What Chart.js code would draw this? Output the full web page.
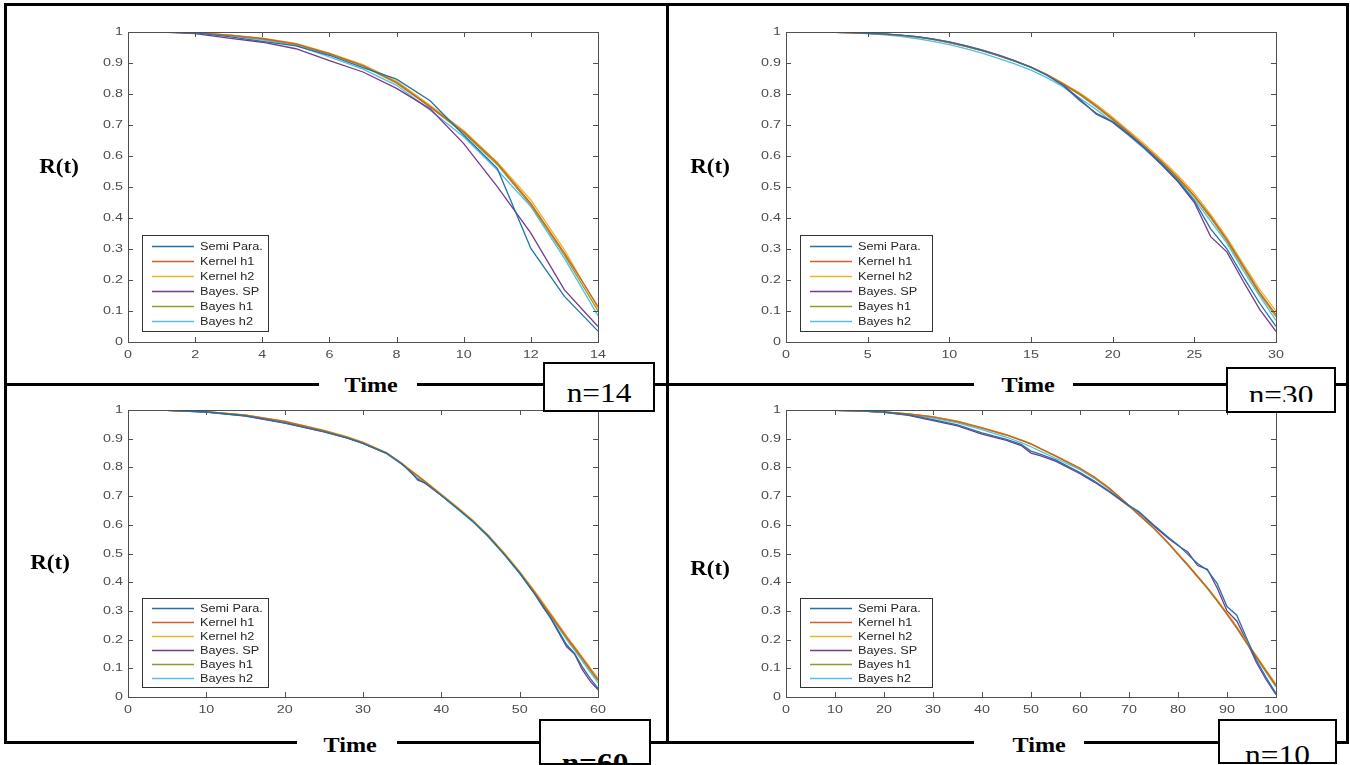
<!DOCTYPE html>
<html>
<head>
<meta charset="utf-8">
<script src="https://cdn.jsdelivr.net/npm/chart.js@4.4.1/dist/chart.umd.min.js"></script>
<style>
  html, body { margin: 0; padding: 0; background: #fff; overflow: hidden; }
  #fig { position: relative; width: 1350px; height: 765px; overflow: hidden; }
  .ln { position: absolute; background: #000; }
  canvas { position: absolute; z-index: 1; }
  .rt { position: absolute; width: 80px; height: 24px; line-height: 24px; text-align: center;
        font: bold 20px "Liberation Serif", serif; transform: scaleX(1.15); z-index: 2; }
  .time { position: absolute; box-sizing: border-box; height: 22px; line-height: 22px; background: #fff;
          text-align: center; font: bold 21px "Liberation Serif", serif; z-index: 3; }
  .time span { display: inline-block; transform: scaleX(1.15); }
  .nbox { position: absolute; box-sizing: border-box; border: 2px solid #000; background: #fff; overflow: hidden; z-index: 4; }
  .nbox .clip { position: absolute; left: 0; right: 0; top: 0; overflow: hidden; }
  .nbox span { position: absolute; left: 0; right: 0; text-align: center; font: 28px "Liberation Serif", serif;
               line-height: 28px; transform: scaleX(1.12); }
</style>
</head>
<body>
<div id="fig">
  <div class="ln" style="left:4px;top:3px;width:1345px;height:3px"></div>
  <div class="ln" style="left:4px;top:383px;width:1345px;height:3px"></div>
  <div class="ln" style="left:4px;top:741px;width:1345px;height:3px"></div>
  <div class="ln" style="left:4px;top:3px;width:3px;height:741px"></div>
  <div class="ln" style="left:666px;top:3px;width:3px;height:741px"></div>
  <div class="ln" style="left:1346px;top:3px;width:3px;height:741px"></div>

  <div class="rt" style="left:19px;top:155px">R(t)</div>
  <div class="rt" style="left:670px;top:155px">R(t)</div>
  <div class="rt" style="left:10px;top:551px">R(t)</div>
  <div class="rt" style="left:670px;top:557px">R(t)</div>

  <div class="time" style="left:319px;top:373px;width:98px;padding-left:6px"><span>Time</span></div>
  <div class="time" style="left:974px;top:373px;width:99px;padding-left:10px"><span>Time</span></div>
  <div class="time" style="left:297px;top:733px;width:100px;padding-left:6px"><span>Time</span></div>
  <div class="time" style="left:974px;top:733px;width:110px;padding-left:20px"><span>Time</span></div>

  <div class="nbox" style="left:543px;top:362px;width:112px;height:50px"><span style="top:15px">n=14</span></div>
  <div class="nbox" style="left:1226px;top:367px;width:110px;height:46px">
    <div class="clip" style="height:33px"><span style="top:12px">n=30</span></div>
  </div>
  <div class="nbox" style="left:539px;top:719px;width:112px;height:46px"><span style="top:28px;font-weight:bold">n=60</span></div>
  <div class="nbox" style="left:1218px;top:719px;width:119px;height:45px"><span style="top:20px">n=10</span></div>
</div>

<script>
const seriesNames = ['Semi Para.', 'Kernel h1', 'Kernel h2', 'Bayes. SP', 'Bayes h1', 'Bayes h2'];
const lineColors = ['#1f74a6', '#cf6128', '#eab527', '#773a8c', '#8a9e2c', '#58bde6'];

const yTickLabels = ['0', '0.1', '0.2', '0.3', '0.4', '0.5', '0.6', '0.7', '0.8', '0.9', '1'];
const xTicks14 = ['0', '2', '4', '6', '8', '10', '12', '14'];
const xTicks30 = ['0', '5', '10', '15', '20', '25', '30'];
const xTicks60 = ['0', '10', '20', '30', '40', '50', '60'];
const xTicks100 = ['0', '10', '20', '30', '40', '50', '60', '70', '80', '90', '100'];

// n = 14
const t14 = [1, 2, 3, 4, 5, 6, 7, 8, 9, 10, 11, 12, 13, 14];
const n14_semi = [1, 0.997, 0.985, 0.970, 0.955, 0.925, 0.885, 0.848, 0.778, 0.668, 0.560, 0.302, 0.147, 0.035];
const n14_kh1 = [1, 0.998, 0.990, 0.979, 0.962, 0.930, 0.892, 0.838, 0.760, 0.678, 0.577, 0.447, 0.287, 0.115];
const n14_kh2 = [1, 0.998, 0.991, 0.980, 0.963, 0.932, 0.895, 0.842, 0.764, 0.682, 0.580, 0.458, 0.297, 0.108];
const n14_bsp = [1, 0.995, 0.980, 0.967, 0.946, 0.908, 0.871, 0.818, 0.752, 0.640, 0.501, 0.351, 0.168, 0.050];
const n14_bh1 = [1, 0.998, 0.990, 0.978, 0.960, 0.928, 0.890, 0.835, 0.757, 0.674, 0.572, 0.442, 0.280, 0.100];
const n14_bh2 = [1, 0.997, 0.988, 0.975, 0.957, 0.920, 0.880, 0.828, 0.748, 0.662, 0.555, 0.437, 0.270, 0.085];

// n = 30
const t30 = [1, 2, 3, 4, 5, 6, 7, 8, 9, 10, 11, 12, 13, 14, 15, 16, 17, 18, 19, 20, 21, 22, 23, 24, 25, 26, 27, 28, 29, 30];
const n30_semi = [1, 1, 0.999, 0.998, 0.996, 0.994, 0.990, 0.985, 0.977, 0.967, 0.955, 0.941, 0.925, 0.907, 0.886, 0.860, 0.826, 0.778, 0.738, 0.711, 0.670, 0.625, 0.575, 0.520, 0.455, 0.365, 0.300, 0.210, 0.125, 0.050];
const n30_kh1 = [1, 1, 0.999, 0.998, 0.996, 0.993, 0.989, 0.984, 0.976, 0.966, 0.954, 0.940, 0.924, 0.906, 0.887, 0.862, 0.832, 0.800, 0.762, 0.720, 0.676, 0.630, 0.582, 0.530, 0.472, 0.405, 0.330, 0.245, 0.160, 0.088];
const n30_kh2 = [1, 1, 0.999, 0.998, 0.996, 0.993, 0.989, 0.984, 0.976, 0.966, 0.954, 0.940, 0.924, 0.906, 0.887, 0.863, 0.834, 0.803, 0.766, 0.725, 0.681, 0.636, 0.588, 0.537, 0.480, 0.412, 0.336, 0.252, 0.170, 0.100];
const n30_bsp = [1, 1, 0.999, 0.998, 0.996, 0.994, 0.990, 0.985, 0.978, 0.968, 0.956, 0.942, 0.926, 0.908, 0.887, 0.861, 0.828, 0.782, 0.735, 0.709, 0.668, 0.623, 0.572, 0.517, 0.450, 0.340, 0.290, 0.195, 0.105, 0.034];
const n30_bh1 = [1, 1, 0.999, 0.998, 0.996, 0.993, 0.989, 0.984, 0.976, 0.966, 0.954, 0.940, 0.924, 0.906, 0.886, 0.861, 0.830, 0.797, 0.758, 0.716, 0.672, 0.626, 0.578, 0.526, 0.468, 0.400, 0.325, 0.240, 0.155, 0.082];
const n30_bh2 = [1, 1, 0.999, 0.997, 0.995, 0.991, 0.986, 0.979, 0.970, 0.959, 0.946, 0.932, 0.915, 0.897, 0.877, 0.852, 0.822, 0.786, 0.750, 0.708, 0.665, 0.620, 0.572, 0.520, 0.460, 0.390, 0.318, 0.230, 0.148, 0.070];

// n = 60
const t60 = [1, 5, 10, 15, 20, 25, 28, 30, 33, 35, 36, 37, 38, 40, 42, 44, 46, 48, 50, 52, 53, 54, 56, 57, 58, 59, 60];
const n60_semi = [1, 0.999, 0.993, 0.980, 0.955, 0.925, 0.903, 0.884, 0.850, 0.812, 0.785, 0.760, 0.743, 0.702, 0.658, 0.612, 0.560, 0.498, 0.432, 0.355, 0.312, 0.275, 0.182, 0.152, 0.105, 0.065, 0.030];
const n60_kh1 = [1, 0.999, 0.994, 0.982, 0.960, 0.928, 0.905, 0.886, 0.850, 0.812, 0.791, 0.770, 0.749, 0.704, 0.660, 0.614, 0.560, 0.500, 0.434, 0.362, 0.323, 0.285, 0.208, 0.172, 0.135, 0.097, 0.060];
const n60_kh2 = [1, 0.999, 0.994, 0.983, 0.961, 0.930, 0.907, 0.888, 0.852, 0.814, 0.793, 0.772, 0.751, 0.707, 0.663, 0.617, 0.564, 0.504, 0.438, 0.366, 0.328, 0.290, 0.212, 0.176, 0.139, 0.102, 0.065];
const n60_bsp = [1, 0.999, 0.993, 0.979, 0.954, 0.924, 0.902, 0.884, 0.849, 0.811, 0.788, 0.755, 0.745, 0.703, 0.659, 0.613, 0.563, 0.499, 0.433, 0.358, 0.315, 0.272, 0.175, 0.150, 0.095, 0.055, 0.025];
const n60_bh1 = [1, 0.999, 0.994, 0.982, 0.959, 0.927, 0.904, 0.885, 0.850, 0.811, 0.790, 0.769, 0.748, 0.703, 0.659, 0.613, 0.559, 0.499, 0.433, 0.360, 0.321, 0.283, 0.205, 0.169, 0.132, 0.094, 0.058];
const n60_bh2 = [1, 0.999, 0.993, 0.981, 0.958, 0.926, 0.903, 0.884, 0.848, 0.810, 0.789, 0.768, 0.747, 0.702, 0.657, 0.611, 0.557, 0.497, 0.430, 0.358, 0.319, 0.280, 0.200, 0.163, 0.125, 0.087, 0.050];

// n = 100
const t100 = [1, 5, 10, 15, 20, 25, 30, 35, 40, 45, 48, 50, 52, 55, 60, 63, 66, 70, 72, 75, 78, 80, 82, 84, 86, 88, 90, 92, 94, 96, 98, 100];
const n100_semi = [1, 1, 0.999, 0.997, 0.993, 0.983, 0.966, 0.948, 0.920, 0.898, 0.880, 0.857, 0.845, 0.826, 0.782, 0.752, 0.717, 0.667, 0.646, 0.600, 0.557, 0.530, 0.497, 0.465, 0.442, 0.395, 0.315, 0.285, 0.205, 0.128, 0.068, 0.012];
const n100_kh1 = [1, 1, 0.999, 0.997, 0.993, 0.986, 0.976, 0.960, 0.938, 0.913, 0.895, 0.882, 0.865, 0.840, 0.797, 0.765, 0.727, 0.667, 0.636, 0.590, 0.537, 0.498, 0.460, 0.420, 0.380, 0.336, 0.290, 0.242, 0.190, 0.140, 0.090, 0.040];
const n100_kh2 = [1, 1, 0.999, 0.997, 0.993, 0.986, 0.977, 0.961, 0.939, 0.914, 0.896, 0.883, 0.866, 0.841, 0.798, 0.766, 0.728, 0.668, 0.637, 0.591, 0.538, 0.500, 0.462, 0.422, 0.382, 0.339, 0.293, 0.245, 0.194, 0.144, 0.094, 0.045];
const n100_bsp = [1, 1, 0.999, 0.997, 0.992, 0.981, 0.963, 0.945, 0.916, 0.894, 0.876, 0.850, 0.840, 0.822, 0.778, 0.748, 0.714, 0.665, 0.644, 0.597, 0.553, 0.528, 0.505, 0.458, 0.445, 0.380, 0.300, 0.265, 0.195, 0.120, 0.060, 0.008];
const n100_bh1 = [1, 1, 0.999, 0.997, 0.993, 0.986, 0.976, 0.959, 0.937, 0.912, 0.894, 0.881, 0.864, 0.839, 0.796, 0.764, 0.726, 0.666, 0.635, 0.589, 0.536, 0.497, 0.459, 0.419, 0.379, 0.335, 0.289, 0.240, 0.188, 0.138, 0.088, 0.038];
const n100_bh2 = [1, 1, 0.999, 0.997, 0.992, 0.984, 0.972, 0.955, 0.932, 0.905, 0.886, 0.872, 0.856, 0.832, 0.792, 0.761, 0.724, 0.665, 0.634, 0.588, 0.535, 0.496, 0.458, 0.418, 0.378, 0.334, 0.288, 0.239, 0.187, 0.136, 0.085, 0.035];

Chart.defaults.font.family = "'Liberation Sans', Arial, sans-serif";
Chart.defaults.font.size = 11;

// text drawn a bit wider than the font, as in the original figure
function wideText(ctx, txt, x, y, sx) {
  ctx.save();
  ctx.translate(x, y);
  ctx.scale(sx, 1);
  ctx.fillText(txt, 0, 0);
  ctx.restore();
}

// MATLAB-like axes box with inward ticks on all sides, tick labels, legend inside lower-left
const matlabBox = {
  id: 'matlabBox',
  afterDatasetsDraw(chart, args, opts) {
    const ctx = chart.ctx;
    const a = chart.chartArea;
    const xs = chart.scales.x, ys = chart.scales.y;
    ctx.save();
    ctx.strokeStyle = '#505050';
    ctx.lineWidth = 1;
    ctx.strokeRect(Math.round(a.left) + 0.5, Math.round(a.top) + 0.5, Math.round(a.right - a.left), Math.round(a.bottom - a.top));
    ctx.beginPath();
    xs.ticks.forEach(t => {
      const px = Math.round(xs.getPixelForValue(t.value)) + 0.5;
      ctx.moveTo(px, a.bottom); ctx.lineTo(px, a.bottom - 5);
      ctx.moveTo(px, a.top); ctx.lineTo(px, a.top + 5);
    });
    ys.ticks.forEach(t => {
      const py = Math.round(ys.getPixelForValue(t.value)) + 0.5;
      ctx.moveTo(a.left, py); ctx.lineTo(a.left + 5, py);
      ctx.moveTo(a.right, py); ctx.lineTo(a.right - 5, py);
    });
    ctx.stroke();

    // tick labels
    ctx.fillStyle = '#4d4d4d';
    ctx.font = "11px 'Liberation Sans', Arial, sans-serif";
    ctx.textBaseline = 'middle';
    ctx.textAlign = 'center';
    xs.ticks.forEach((t, i) => {
      wideText(ctx, opts.xLabels[i], xs.getPixelForValue(t.value), a.bottom + 13, 1.3);
    });
    ctx.textAlign = 'right';
    ys.ticks.forEach((t, i) => {
      wideText(ctx, yTickLabels[i], a.left - 5, ys.getPixelForValue(t.value), 1.3);
    });

    const L = opts.legend;
    const bx = Math.round(a.left) + 14;
    const by = Math.round(a.bottom) - L.bottom - L.h;
    ctx.fillStyle = '#fff';
    ctx.fillRect(bx, by, L.w, L.h);
    ctx.strokeStyle = '#333';
    ctx.lineWidth = 1;
    ctx.strokeRect(bx + 0.5, by + 0.5, L.w, L.h);
    ctx.font = "10px 'Liberation Sans', Arial, sans-serif";
    ctx.textAlign = 'left';
    ctx.textBaseline = 'middle';
    chart.data.datasets.forEach((ds, k) => {
      const yy = by + L.off + k * L.row + 0.5;
      ctx.strokeStyle = ds.borderColor;
      ctx.lineWidth = 1.4;
      ctx.beginPath();
      ctx.moveTo(bx + 10, yy); ctx.lineTo(bx + 52, yy);
      ctx.stroke();
      ctx.fillStyle = '#262626';
      wideText(ctx, ds.label, bx + 58, yy + 0.5, 1.27);
    });
    ctx.restore();
  }
};

function makePanel(area, times, series, xMax, xStep, xLabels, legendCfg) {
  const [L, T, R, B] = area;
  const padR = 22;
  const cv = document.createElement('canvas');
  const w = R - L + 45 + padR, h = B - T + 8 + 24;
  cv.width = w; cv.height = h;
  cv.style.left = (L - 45) + 'px';
  cv.style.top = (T - 8) + 'px';
  cv.style.width = w + 'px';
  cv.style.height = h + 'px';
  document.getElementById('fig').appendChild(cv);

  new Chart(cv.getContext('2d'), {
    type: 'line',
    data: {
      datasets: series.map((vals, k) => ({
        label: seriesNames[k],
        data: times.map((t, i) => ({ x: t, y: vals[i] })),
        borderColor: lineColors[k],
        borderWidth: 1.3,
        pointRadius: 0,
        fill: false,
        tension: 0
      }))
    },
    options: {
      responsive: false,
      animation: false,
      devicePixelRatio: 1,
      layout: { padding: { left: 0, top: 8, right: padR, bottom: 0 } },
      plugins: {
        legend: { display: false },
        tooltip: { enabled: false },
        matlabBox: { legend: legendCfg, xLabels: xLabels }
      },
      scales: {
        x: {
          type: 'linear', min: 0, max: xMax,
          grid: { display: false, drawTicks: false },
          border: { display: false },
          ticks: { stepSize: xStep, autoSkip: false, maxRotation: 0, display: false },
          afterFit: s => { s.height = 24; s.paddingLeft = 0; s.paddingRight = 0; }
        },
        y: {
          min: 0, max: 1,
          grid: { display: false, drawTicks: false },
          border: { display: false },
          ticks: { stepSize: 0.1, autoSkip: false, display: false },
          afterFit: s => { s.width = 45; s.paddingTop = 0; s.paddingBottom = 0; }
        }
      }
    },
    plugins: [matlabBox]
  });
}

const legendTop = { w: 126, h: 96, row: 15, off: 11, bottom: 11 };
const legendTopWide = { w: 132, h: 96, row: 15, off: 11, bottom: 11 };
const legendBot = { w: 126, h: 89, row: 14, off: 10, bottom: 10 };
const legendBotWide = { w: 132, h: 89, row: 14, off: 10, bottom: 10 };

makePanel([128, 32, 598, 342], t14, [n14_semi, n14_kh1, n14_kh2, n14_bsp, n14_bh1, n14_bh2], 14, 2, xTicks14, legendTop);
makePanel([786, 32, 1276, 342], t30, [n30_semi, n30_kh1, n30_kh2, n30_bsp, n30_bh1, n30_bh2], 30, 5, xTicks30, legendTopWide);
makePanel([128, 410, 598, 697], t60, [n60_semi, n60_kh1, n60_kh2, n60_bsp, n60_bh1, n60_bh2], 60, 10, xTicks60, legendBot);
makePanel([786, 410, 1276, 697], t100, [n100_semi, n100_kh1, n100_kh2, n100_bsp, n100_bh1, n100_bh2], 100, 10, xTicks100, legendBotWide);
</script>
</body>
</html>
